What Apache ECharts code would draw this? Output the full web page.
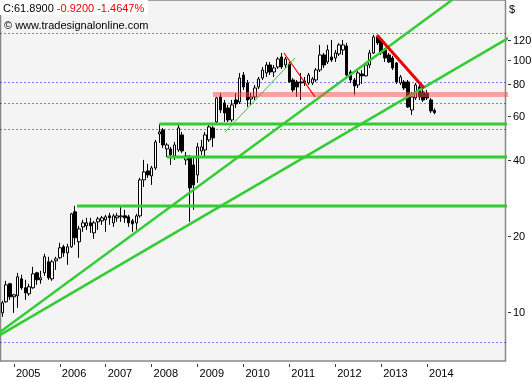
<!DOCTYPE html>
<html><head><meta charset="utf-8">
<script src="https://cdn.jsdelivr.net/npm/echarts@6/dist/echarts.min.js"></script>
<style>html,body{margin:0;padding:0;background:#fff}#c{width:532px;height:380px}</style>
</head><body><div id="c"></div>
<script>
// ---- data (monthly candles, Oct 2004 .. Mar 2014) ----
const tickYears = ['2005','2006','2007','2008','2009','2010','2011','2012','2013','2014'];
const openV = [9.92,10.98,12.94,11.49,11.60,13.54,12.48,11.81,12.48,14.30,
13.42,14.30,15.82,13.54,15.96,16.41,18.14,17.17,18.14,24.97,
18.99,21.77,21.97,22.58,20.61,22.79,23.00,23.21,24.07,22.58,
23.64,23.86,24.07,23.86,23.00,22.58,24.07,33.44,36.30,34.68,
37.30,50.88,52.78,44.37,44.37,41.62,43.97,50.42,40.13,40.87,
38.34,34.99,43.57,43.97,48.17,53.75,56.77,71.34,67.54,64.52,
57.82,69.41,68.15,87.19,81.06,70.05,71.34,78.15,84.84,88.81,
95.54,89.62,93.81,102.78,95.54,96.41,83.31,81.80,81.80,82.55,
81.06,81.06,83.31,91.27,104.70,98.19,102.78,101.84,105.67,109.60,
113.68,89.62,83.31,79.60,88.00,86.50,95.54,106.64,123.44,120.10,
109.60,104.70,101.84,97.30,81.06,81.80,81.80,63.35,70.69,78.15,
74.66,73.99,69.41,63.00];
const closeV = [10.88,12.82,11.49,11.70,13.79,12.48,11.92,12.59,14.17,13.42,
13.67,16.56,13.67,15.82,16.26,17.98,17.17,18.14,24.52,19.70,
21.37,22.58,22.58,21.97,22.58,23.42,23.64,23.86,23.64,24.07,
24.07,24.07,23.64,22.58,22.38,24.07,33.44,35.97,34.99,37.30,
47.30,51.82,46.02,46.02,42.00,46.02,53.75,43.57,41.62,31.08,
31.95,45.19,45.19,50.42,54.25,49.06,70.69,63.35,61.64,57.82,
66.31,66.92,84.84,78.15,69.41,71.34,77.44,84.08,91.27,95.54,
89.62,92.95,100.92,93.81,100.92,81.80,76.04,78.15,81.06,81.06,
87.19,84.08,91.27,104.70,95.54,109.60,100.00,106.64,114.73,114.73,
87.19,83.31,78.87,88.81,86.50,95.54,106.64,123.44,116.86,106.64,
101.84,98.19,92.95,81.80,85.63,77.44,65.11,71.34,79.60,71.34,
69.41,70.69,62.81,61.89];
const lowV = [9.57,10.88,11.18,9.92,10.39,12.25,11.18,11.60,12.36,12.82,
12.94,13.92,13.42,13.30,14.70,16.26,16.56,15.39,17.98,18.48,
16.41,20.80,21.18,20.61,19.52,21.18,22.17,20.80,22.17,21.77,
22.79,22.79,22.58,21.77,20.80,21.18,23.64,31.37,34.06,31.95,
36.63,46.87,44.78,41.25,38.34,40.13,43.17,42.78,38.34,22.79,
25.43,32.54,42.00,40.87,47.30,45.19,55.74,61.64,56.77,56.77,
56.77,64.52,66.92,76.04,65.11,66.31,69.41,76.74,83.31,85.63,
87.19,85.63,92.11,92.11,92.95,81.06,74.66,71.34,69.41,78.87,
79.60,79.60,81.80,89.62,92.95,96.41,98.19,98.19,103.72,104.70,
85.63,81.06,72.64,77.44,80.32,86.00,92.95,105.67,114.73,104.70,
98.19,97.30,91.27,80.32,79.60,76.04,64.52,60.52,69.41,69.41,
68.15,69.41,61.64,60.90];
const highV = [11.08,13.30,13.06,11.81,14.30,14.05,13.42,12.94,15.11,14.43,
14.57,17.02,16.56,16.11,16.56,18.82,18.48,18.65,24.74,26.38,
21.97,23.21,23.64,23.64,23.00,23.86,24.07,24.30,24.74,24.52,
24.74,26.14,25.43,24.30,23.42,24.52,34.06,40.13,38.69,37.99,
48.17,55.74,53.75,46.87,45.19,47.30,55.74,51.82,43.17,42.00,
40.87,46.87,48.17,51.82,56.26,54.74,71.34,73.99,69.41,66.31,
69.41,73.99,88.81,89.62,83.31,73.99,79.60,85.63,93.81,98.19,
98.19,95.54,102.78,106.64,102.78,98.19,84.84,83.31,88.81,85.63,
88.81,85.63,92.95,114.73,106.64,114.73,120.10,109.60,116.86,120.10,
116.86,91.27,84.84,90.44,91.27,98.19,109.60,125.72,125.72,122.31,
111.62,106.64,103.72,98.19,87.19,83.31,83.31,74.66,81.06,81.06,
77.44,76.04,70.69,64.30];

const yTickValues = [10, 20, 40, 60, 80, 100, 120];
const dottedLevels = [127.4, 81.42, 67.2, 52.98, 7.568];
// horizontal support lines: [start month index, level]
const greenLevelStart = [41, 43, 19.5];
const greenLevelValue = [55.72, 41.22, 26.34];
const bandStart = 55, bandValue = 72.97;
// trend lines: month-index endpoints and price endpoints
const steepK = [-2, 122], steepV = [8.04, 194.1];
const lowerK = [-2, 134], lowerV = [7.88, 126.6];
const thinGreenK = [58.2, 76.5], thinGreenV = [51.8, 101.8];
const thinRedK = [73.6, 81.7], thinRedV = [106.6, 71.33];
const thickRedK = [97.9, 110.2], thickRedV = [125.7, 77.44];

const headerClose = 'C:61.8900', headerChange = '-0.9200 -1.4647%';
const copyright = '\u00a9 www.tradesignalonline.com';

// ---- chart ----
const FONT = 'Liberation Sans, Arial, sans-serif';
const months = [];
for (let i = 0; i < 132; i++) {
  const t = 2004 * 12 + 9 + i;
  months.push(Math.floor(t / 12) + '-' + String(t % 12 + 1).padStart(2, '0'));
}
const isYearTick = (i, v) => v.endsWith('-01') && tickYears.includes(v.slice(0, 4));
const candles = openV.map((o, i) => [o, closeV[i], lowV[i], highV[i]]);

function seg(k, v, color, width, z, extra) {
  return Object.assign({
    type: 'line', xAxisIndex: 1, yAxisIndex: 0, symbol: 'none', silent: true,
    animation: false, z: z, clip: true,
    data: [[k[0], v[0]], [k[1], v[1]]],
    lineStyle: { color: color, width: width }
  }, extra || {});
}

const series = [];
dottedLevels.forEach(v => series.push(seg([-0.5, 131.5], [v, v], '#0000ee', 1, 1,
  { lineStyle: { color: '#0000ee', width: 1, type: [1, 3] } })));
series.push({
  type: 'candlestick', xAxisIndex: 0, yAxisIndex: 0, data: candles, barWidth: 3,
  animation: false, silent: true, z: 2,
  itemStyle: { color: '#ffffff', color0: '#000000', borderColor: '#000000', borderColor0: '#000000', borderWidth: 1 }
});
greenLevelStart.forEach((s, i) => series.push(seg([s, 135], [greenLevelValue[i], greenLevelValue[i]], '#33cc33', 3, 3)));
series.push(seg(steepK, steepV, '#33cc33', 2.5, 3));
series.push(seg(lowerK, lowerV, '#33cc33', 2.5, 3));
series.push(seg(thinGreenK, thinGreenV, '#33cc33', 1, 3));
series.push(seg([bandStart, 135], [bandValue, bandValue], 'rgba(250,80,80,0.51)', 5, 4));
series.push(seg(thinRedK, thinRedV, '#ff0000', 1.2, 5));
series.push(seg(thickRedK, thickRedV, '#ee0000', 3, 5));

const chart = echarts.init(document.getElementById('c'), null, { renderer: 'canvas' });
chart.setOption({
  animation: false,
  backgroundColor: '#ffffff',
  grid: { left: 0.5, right: 26.5, top: 0, bottom: 19, show: true, backgroundColor: '#f4f4f4', borderColor: '#888888', borderWidth: 1.5 },
  xAxis: [{
    type: 'category', data: months, boundaryGap: true, position: 'bottom', offset: 3,
    axisLine: { show: false },
    axisTick: { show: true, alignWithLabel: true, interval: isYearTick, length: 3, lineStyle: { color: '#333355' } },
    axisLabel: { interval: isYearTick, formatter: v => v.slice(0, 4), align: 'left', padding: [0, 0, 0, 2], margin: 4, color: '#000', fontSize: 11, fontFamily: FONT },
    splitLine: { show: false }
  }, {
    type: 'value', min: -0.5, max: 131.5, show: false
  }],
  yAxis: {
    type: 'log', logBase: 10, min: 6.3914, max: 172.98, position: 'right',
    axisLine: { show: false }, axisTick: { show: false }, axisLabel: { show: false }, splitLine: { show: false }
  },
  series: series
});

const g = [];
yTickValues.forEach(v => {
  const py = Math.round(chart.convertToPixel({ yAxisIndex: 0 }, v)) + 0.5;
  g.push({ type: 'line', silent: true, shape: { x1: 508, y1: py, x2: 511, y2: py }, style: { stroke: '#333333', lineWidth: 1 } });
  g.push({ type: 'text', silent: true, style: { text: String(v), x: 513, y: py, fill: '#000', font: '11px ' + FONT, align: 'left', verticalAlign: 'middle', textAlign: 'left', textVerticalAlign: 'middle' } });
});
g.push({ type: 'text', silent: true, style: { text: '$', x: 509, y: 10, fill: '#000', font: '11px ' + FONT, align: 'left', verticalAlign: 'middle', textAlign: 'left', textVerticalAlign: 'middle' } });
g.push({ type: 'rect', silent: true, shape: { x: 0, y: 0, width: 148, height: 15 }, style: { fill: '#ffffff' } });
g.push({ type: 'text', silent: true, style: {
  text: '{a|' + headerClose + '} {b|' + headerChange + '}', x: 3, y: 9, font: '11px ' + FONT,
  align: 'left', verticalAlign: 'middle', textAlign: 'left', textVerticalAlign: 'middle',
  rich: { a: { fill: '#000000', font: '11px ' + FONT }, b: { fill: '#ee0000', font: '11px ' + FONT } }
} });
g.push({ type: 'text', silent: true, style: { text: copyright, x: 4, y: 25.5, fill: '#000', font: '11px ' + FONT, align: 'left', verticalAlign: 'middle', textAlign: 'left', textVerticalAlign: 'middle' } });
chart.setOption({ graphic: g });
</script>
</body></html>
